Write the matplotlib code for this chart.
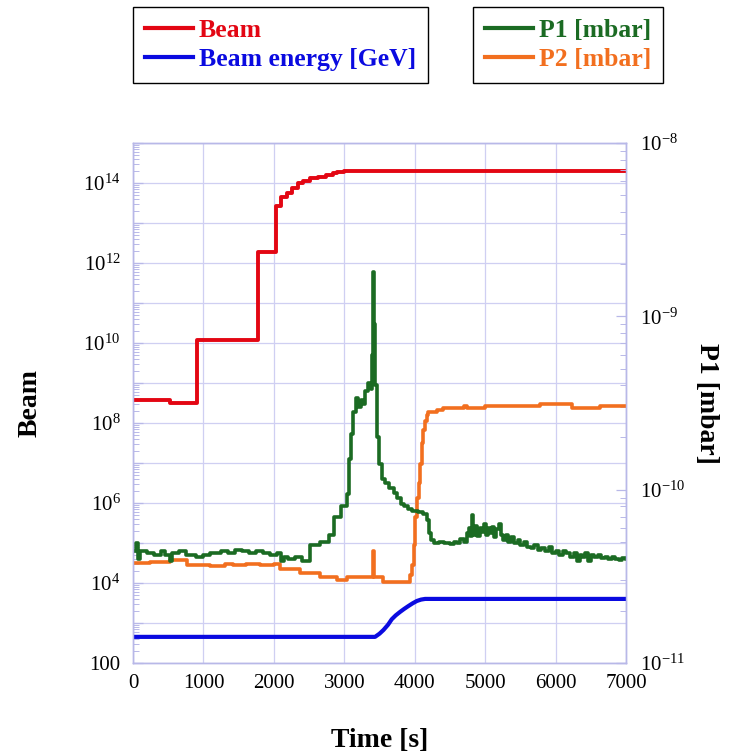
import matplotlib
matplotlib.use("Agg")
import matplotlib.pyplot as plt
from matplotlib.ticker import LogLocator, FuncFormatter, NullFormatter
import numpy as np

# ---- data -----------------------------------------------------------------
# Beam intensity (left axis)
beam_t = [0, 525, 913, 1780, 2031, 2100, 2180, 2260, 2340, 2420, 2520, 2620,
          2740, 2840, 2900, 3000, 5660, 7000]
beam_val = [3.8e8, 3.2e8, 1.2e10, 1.9e12, 2.6e13, 4.5e13, 5.5e13, 7.5e13, 1.0e14,
            1.15e14, 1.35e14, 1.45e14, 1.55e14, 1.75e14, 1.9e14, 2.05e14, 1.95e14, 1.95e14]

# Beam energy in GeV (left axis)
energy_t = [0, 3437, 3500, 3556, 3620, 3674, 3730, 3793, 3850, 3911, 3970, 4030,
            4090, 4148, 7000]
energy_val = [450, 450, 540, 668, 900, 1240, 1550, 1900, 2250, 2660, 3100, 3550,
              3850, 4000, 4000]

# Pressure P1 in units of 1e-11 mbar (right axis)
p1_t = [0, 40, 70, 100, 200, 300, 400, 450, 520, 560, 650, 750, 900, 1000, 1100,
        1250, 1350, 1450, 1550, 1650, 1750, 1850, 1950, 2050, 2100, 2150, 2200,
        2300, 2400, 2520, 2650, 2780, 2850, 2950, 3040, 3070, 3090, 3130, 3170,
        3200, 3240, 3270, 3300, 3340, 3380, 3400, 3410, 3420, 3440, 3460, 3490,
        3530, 3580, 3630, 3700, 3750, 3800, 3850, 3900, 3960, 4050, 4120, 4170,
        4200, 4230, 4280, 4350, 4420, 4500, 4560, 4600, 4640, 4700, 4740, 4770,
        4790, 4810, 4830, 4860, 4890, 4920, 4950, 4980, 5010, 5040, 5070, 5100,
        5130, 5160, 5190, 5220, 5250, 5290, 5330, 5370, 5410, 5460, 5500, 5550,
        5600, 5650, 5700, 5750, 5800, 5850, 5900, 5950, 6000, 6050, 6100, 6150,
        6200, 6260, 6300, 6340, 6380, 6420, 6460, 6500, 6550, 6600, 6650, 6700,
        6750, 6800, 6850, 6900, 6950, 7000]
p1_val = [4.4, 4.9, 4.0, 4.4, 4.3, 4.2, 4.4, 4.2, 3.9, 4.3, 4.4, 4.2, 4.1, 4.2, 4.3,
          4.4, 4.3, 4.5, 4.4, 4.3, 4.4, 4.3, 4.2, 4.3, 3.9, 4.1, 4.0,
          4.1, 3.9, 4.8, 5.0, 5.5, 7.0, 8.0, 9.5, 15, 21, 28, 34,
          30, 33, 31, 37, 41, 38, 60, 180, 90, 40, 20, 14,
          11.5, 10.9, 10.2, 9.6, 8.9, 8.3, 8.0, 7.7, 7.5, 7.4, 7.2, 6.7,
          5.6, 5.1, 4.9, 5.0, 4.9, 4.85, 5.0, 4.9, 5.2, 5.0, 5.6, 6.0,
          5.4, 7.1, 5.5, 6.2, 5.4, 6.0, 5.7, 6.3, 5.5, 6.0, 5.6, 6.1,
          5.3, 5.9, 6.3, 5.5, 5.1, 5.5, 5.0, 5.3, 4.9, 5.1, 4.8, 5.0,
          4.7, 4.6, 4.8, 4.5, 4.6, 4.4, 4.7, 4.3, 4.4, 4.2, 4.4, 4.3,
          4.1, 4.3, 3.9, 4.2, 4.1, 4.3, 3.9, 4.2, 4.1, 4.2, 4.05, 4.1,
          4.0, 4.1, 4.0, 3.95, 4.05, 4.0]

# Pressure P2 in units of 1e-11 mbar (right axis)
p2_t = [0, 240, 525, 760, 1000, 1100, 1300, 1420, 1600, 1800, 2000, 2090, 2370,
        2650, 2890, 3035, 3405, 3420, 3556, 3935, 3960, 3985, 4006, 4030, 4054,
        4078, 4100, 4124, 4148, 4172, 4195, 4314, 4408, 4693, 4740, 5000, 5780,
        6235, 6630, 7000]
p2_val = [3.76, 3.85, 3.93, 3.67, 3.7, 3.65, 3.72, 3.68, 3.72, 3.7, 3.75, 3.5, 3.3,
          3.15, 3.0, 3.15, 4.4, 3.15, 2.94, 3.2, 3.7, 4.8, 7.0, 9.0, 10.9,
          14, 18.5, 22, 25, 27, 28, 29, 29.5, 30.5, 29.5, 30.4, 31,
          29.5, 30.4, 30.4]

x_ticks = [0, 1000, 2000, 3000, 4000, 5000, 6000, 7000]

# ---- style ----------------------------------------------------------------
plt.rcParams["font.family"] = ["Liberation Serif", "DejaVu Serif"]
plt.rcParams["mathtext.fontset"] = "custom"
plt.rcParams["mathtext.rm"] = "Liberation Serif"
plt.rcParams["mathtext.it"] = "Liberation Serif:italic"
plt.rcParams["mathtext.bf"] = "Liberation Serif:bold"

RED = "#e30613"
BLUE = "#0a0ae0"
GREEN = "#1b6b23"
ORANGE = "#f26f1f"
FRAME = "#b8b8e8"
GRID = "#cfcff2"

fig = plt.figure(figsize=(7.3, 7.53), dpi=100)
ax = fig.add_axes([133 / 730, 1 - 663 / 753, 493 / 730, 520 / 753])
ax2 = ax.twinx()

# left axis: beam intensity and energy
l_beam, = ax.plot(beam_t, beam_val, color=RED, lw=2.8, drawstyle="steps-post",
                  label="Beam", zorder=3)
l_energy, = ax.plot(energy_t, energy_val, color=BLUE, lw=3.0, label="Beam energy [GeV]",
                    zorder=3)

# right axis: pressures
p1 = np.array(p1_val) * 1e-11
p2 = np.array(p2_val) * 1e-11
l_p2, = ax2.plot(p2_t, p2, color=ORANGE, lw=2.6, drawstyle="steps-post", label="P2 [mbar]")
l_p1, = ax2.plot(p1_t, p1, color=GREEN, lw=2.6, drawstyle="steps-post", label="P1 [mbar]")

ax.set_xlim(0, 7000)
ax.set_yscale("log")
ax.set_ylim(1e2, 1e15)
ax2.set_yscale("log")
ax2.set_ylim(1e-11, 1e-8)


def left_fmt(v, _):
    e = int(round(np.log10(v)))
    if e == 2:
        return "100"
    if e % 2 == 0:
        return r"$10^{%d}$" % e
    return ""


ax.yaxis.set_major_locator(LogLocator(base=10, numticks=30))
ax.yaxis.set_minor_locator(LogLocator(base=10, subs=np.arange(2, 10), numticks=30))
ax.yaxis.set_major_formatter(FuncFormatter(left_fmt))
ax.yaxis.set_minor_formatter(NullFormatter())
ax.set_xticks(x_ticks)
ax.set_xticklabels([str(t) for t in x_ticks])

ax2.yaxis.set_major_locator(LogLocator(base=10, numticks=10))
ax2.yaxis.set_minor_locator(LogLocator(base=10, subs=np.arange(2, 10), numticks=10))
ax2.yaxis.set_major_formatter(FuncFormatter(lambda v, _: r"$10^{%d}$" % int(round(np.log10(v)))))
ax2.yaxis.set_minor_formatter(NullFormatter())

ax.grid(True, which="major", color=GRID, lw=0.9)
ax.set_axisbelow(True)

ax.tick_params(axis="y", which="both", direction="in", colors=FRAME, labelcolor="black",
               labelsize=15, pad=9, right=False)
ax.tick_params(axis="y", which="major", length=7, width=0.9)
ax.tick_params(axis="y", which="minor", length=4, width=0.7)
ax.tick_params(axis="x", which="both", direction="in", colors=FRAME, labelcolor="black",
               labelsize=15, pad=8, length=0, top=False)
ax2.tick_params(axis="y", which="both", direction="in", colors=FRAME, labelcolor="black",
                labelsize=15, pad=10)
ax2.tick_params(axis="y", which="major", length=7, width=0.9)
ax2.tick_params(axis="y", which="minor", length=4, width=0.7)

for a in (ax, ax2):
    for s in a.spines.values():
        s.set_color(FRAME)
        s.set_linewidth(1.0)

ax.set_xlabel("Time [s]", fontsize=20, fontweight="bold")
ax.xaxis.set_label_coords(0.5, -0.125)
ax.set_ylabel("Beam", fontsize=20, fontweight="bold")
ax.yaxis.set_label_coords(-0.183, 0.5)
ax2.set_ylabel("P1 [mbar]", fontsize=20, fontweight="bold", rotation=270, va="center")
ax2.yaxis.set_label_coords(1.163, 0.5)

# legends above the plot
leg_kw = dict(loc="upper left", frameon=True, fancybox=False, framealpha=1,
              edgecolor="black", handlelength=1.9, handletextpad=0.22,
              borderpad=0.45, labelspacing=0.25, borderaxespad=0,
              labelcolor="linecolor",
              prop=dict(family="Liberation Serif", weight="bold", size=18.5))
leg1 = fig.legend(handles=[l_beam, l_energy], bbox_to_anchor=(133 / 730, 1 - 7 / 753), **leg_kw)
leg2 = fig.legend(handles=[l_p1, l_p2], bbox_to_anchor=(473 / 730, 1 - 7 / 753), **leg_kw)
for lg in (leg1, leg2):
    lg.get_frame().set_linewidth(1.0)
    for h in lg.legend_handles:
        h.set_linewidth(3.0)

fig.savefig("out.png", dpi=100)
